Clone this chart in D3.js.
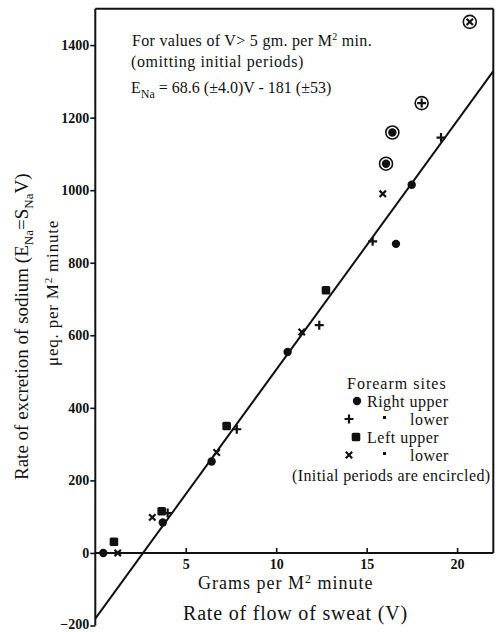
<!DOCTYPE html>
<html>
<head>
<meta charset="utf-8">
<script src="https://cdn.jsdelivr.net/npm/d3@7"></script>
<style>
  body { margin: 0; background: #fff; }
  svg { display: block; }
  text { font-family: "Liberation Serif", "DejaVu Serif", serif; fill: #111; }
</style>
</head>
<body>
<div id="chart"></div>
<script>
// data: [V (g per m2 min), E_Na (ueq per m2 min), initial period?]
const rightUpper = [[0.44, 0, 0], [3.73, 84, 0], [6.43, 252, 0], [10.63, 554, 0], [16.62, 852, 0], [17.49, 1015, 0], [16.07, 1073, 1], [16.42, 1159, 1]];
const rightLower = [[4.0, 110, 0], [7.82, 341, 0], [12.38, 628, 0], [15.33, 859, 0], [19.11, 1145, 0], [18.04, 1240, 1]];
const leftUpper = [[1.03, 31, 0], [3.67, 115, 0], [7.26, 350, 0], [12.75, 724, 0]];
const leftLower = [[1.24, 0, 0], [3.15, 98, 0], [6.71, 277, 0], [11.41, 609, 0], [15.89, 990, 0], [20.7, 1464, 1]];

const xTicks = [5, 10, 15, 20];
const yTicks = [-200, 0, 200, 400, 600, 800, 1000, 1200, 1400];

// regression E = 68.6 V - 181
const fit = {slope: 68.6, icpt: -181};

const width = 497, height = 632;
const svg = d3.select("#chart").append("svg")
  .attr("width", width).attr("height", height);

const x = d3.scaleLinear().domain([0, 22]).range([95.3, 493.3]);
const y = d3.scaleLinear().domain([-200, 1500]).range([625.5, 8.8]);

//frame (top + right), x axis sits on zero
svg.append("line")
  .attr("x1", x(0)).attr("x2", x(22)).attr("y1", y(1500)).attr("y2", y(1500))
  .attr("stroke", "#111").attr("stroke-width", 2);
svg.append("line")
  .attr("x1", x(22)).attr("x2", x(22)).attr("y1", y(1500)).attr("y2", y(0))
  .attr("stroke", "#111").attr("stroke-width", 2);

const yAxis = svg.append("g")
  .attr("transform", `translate(${x(0)},0)`)
  .call(d3.axisLeft(y).tickValues(yTicks).tickSize(5).tickSizeOuter(0).tickPadding(1).tickFormat(d3.format("d")));

const xAxis = svg.append("g")
  .attr("transform", `translate(0,${y(0)})`)
  .call(d3.axisBottom(x).tickValues(xTicks).tickSize(-5).tickSizeOuter(0).tickPadding(6));

for (let ax of [xAxis, yAxis]) {
  ax.select(".domain").attr("stroke", "#111").attr("stroke-width", 2);
  ax.selectAll(".tick line").attr("stroke", "#111").attr("stroke-width", 1.6);
  ax.selectAll(".tick text")
    .attr("font-family", "Liberation Serif, serif")
    .attr("font-size", 14).attr("font-weight", "bold").attr("fill", "#111");
}
yAxis.selectAll(".tick text").attr("dy", d => d === -200 ? "0.2em" : "0.32em");
yAxis.select(".domain").attr("d", `M0,${y(1500)}V${y(-200)}`);
xAxis.select(".domain").attr("d", `M${x(0)},0H${x(22)}`);

//fitted line
svg.append("line")
  .attr("x1", x(0)).attr("y1", y(fit.icpt))
  .attr("x2", x(22)).attr("y2", y(fit.slope * 22 + fit.icpt))
  .attr("stroke", "#111").attr("stroke-width", 2);

//marker painters
function dot(g) { g.append("circle").attr("r", 4.2).attr("fill", "#111"); }
function plus(g) {
  g.append("path").attr("d", "M-4.5,0H4.5M0,-4.5V4.5").attr("stroke", "#111").attr("stroke-width", 2.2);
}
function square(g) { g.append("rect").attr("x", -4.3).attr("y", -4.3).attr("width", 8.6).attr("height", 8.6).attr("rx", 1.6).attr("fill", "#111"); }
function cross(g) {
  g.append("path").attr("d", "M-3.2,-3.2L3.2,3.2M-3.2,3.2L3.2,-3.2").attr("stroke", "#111").attr("stroke-width", 2.2);
}

const groups = [[rightUpper, dot], [rightLower, plus], [leftUpper, square], [leftLower, cross]];
const pts = svg.append("g").attr("class", "points");
for (let [data, painter] of groups) {
  for (let d of data) {
    let g = pts.append("g").attr("transform", `translate(${x(d[0])},${y(d[1])})`);
    painter(g);
    if (d[2]) {
      g.append("circle").attr("r", 6.5).attr("fill", "none").attr("stroke", "#111").attr("stroke-width", 1.6);
    }
  }
}

//annotation
const note = svg.append("g").attr("font-size", 16);
note.append("text").attr("x", 132).attr("y", 46).attr("letter-spacing", 0.3)
  .html('For values of V&gt; 5 gm. per M<tspan dy="-6" font-size="10">2</tspan><tspan dy="6"> min.</tspan>');
note.append("text").attr("x", 131).attr("y", 67).attr("letter-spacing", 0.6).text("(omitting initial periods)");
note.append("text").attr("x", 131).attr("y", 93)
  .html('E<tspan dy="5" font-size="12">Na</tspan><tspan dy="-5"> = 68.6 (±4.0)V - 181 (±53)</tspan>');

//legend
const leg = svg.append("g").attr("font-size", 16).attr("letter-spacing", 0.5);
leg.append("text").attr("x", 347).attr("y", 389).attr("letter-spacing", 1).text("Forearm sites");
const legRows = [
  {y: 402, painter: dot, mx: 357, label: "Right upper", lx: 367},
  {y: 420, painter: plus, mx: 349, label: "lower", lx: 410, ditto: true},
  {y: 438, painter: square, mx: 356, label: "Left upper", lx: 367},
  {y: 456, painter: cross, mx: 349, label: "lower", lx: 410, ditto: true}
];
for (let r of legRows) {
  let g = leg.append("g").attr("transform", `translate(${r.mx},${r.y - 1})`);
  r.painter(g);
  if (r.ditto) leg.append("rect").attr("x", 383).attr("y", r.y - 4).attr("width", 3).attr("height", 3).attr("fill", "#111");
  leg.append("text").attr("x", r.lx).attr("y", r.y + 5).text(r.label);
}
leg.append("text").attr("x", 292).attr("y", 481).attr("letter-spacing", 0.4).text("(Initial periods are encircled)");

//axis titles
svg.append("text").attr("x", 198).attr("y", 589).attr("font-size", 18).attr("letter-spacing", 1)
  .html('Grams per M<tspan dy="-6" font-size="12">2</tspan><tspan dy="6"> minute</tspan>');
svg.append("text").attr("x", 183).attr("y", 620).attr("font-size", 20).attr("letter-spacing", 0.8)
  .text("Rate of flow of sweat (V)");

svg.append("text").attr("transform", "translate(28,480) rotate(-90)").attr("font-size", 19)
  .html('Rate of excretion of sodium (E<tspan dy="5" font-size="13">Na</tspan><tspan dy="-5">=S</tspan><tspan dy="5" font-size="13">Na</tspan><tspan dy="-5">V)</tspan>');
svg.append("text").attr("transform", "translate(58,366) rotate(-90)").attr("font-size", 17).attr("letter-spacing", 0.8)
  .html('μeq. per M<tspan dy="-6" font-size="11">2</tspan><tspan dy="6"> minute</tspan>');
</script>
</body>
</html>
